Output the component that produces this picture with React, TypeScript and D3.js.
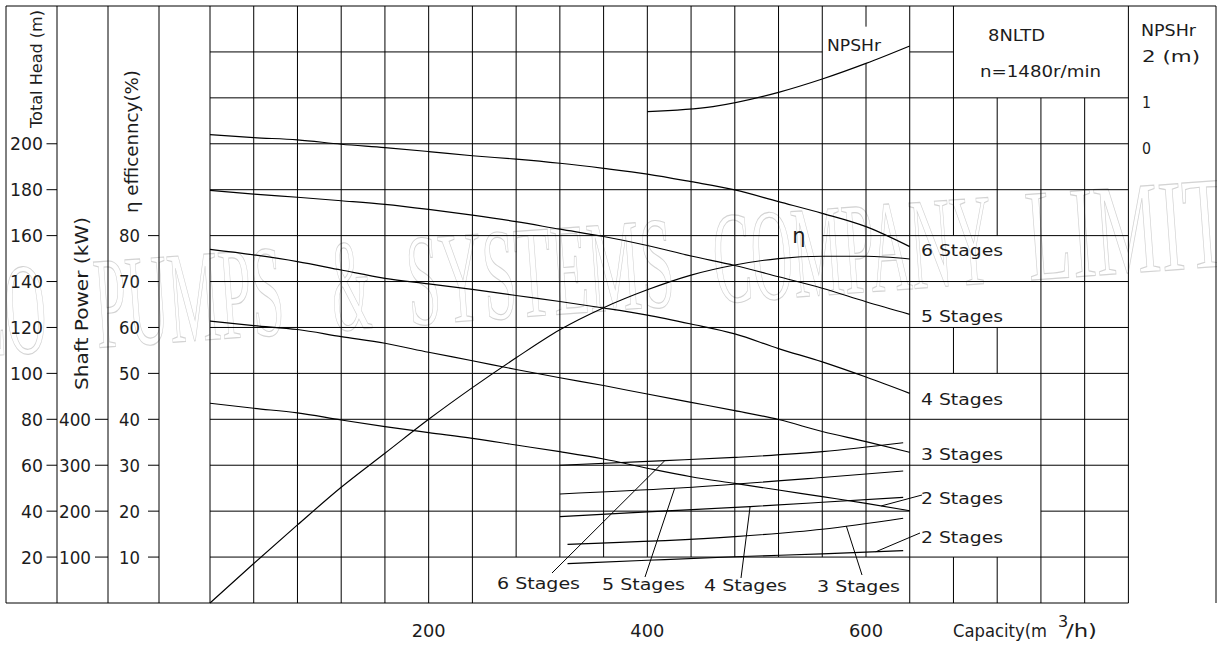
import React from 'react';
import * as d3 from 'd3';

// ---------------- data ----------------
const capacity = [0, 40, 80, 120, 160, 200, 240, 280, 320, 360, 400, 440, 480, 520, 560, 600, 640];
const head6 = [204.0, 202.7, 201.7, 199.8, 198.3, 196.6, 194.8, 193.3, 191.5, 189.3, 186.8, 183.5, 179.9, 174.8, 169.7, 163.9, 155.2];
const head5 = [179.7, 178.1, 176.7, 175.2, 173.6, 171.4, 168.9, 166.1, 162.8, 159.6, 155.7, 151.1, 147.0, 142.1, 137.1, 131.2, 125.7];
const head4 = [154.0, 151.6, 148.7, 145.0, 141.4, 139.0, 136.6, 133.9, 131.3, 128.5, 125.4, 121.5, 117.2, 110.8, 105.0, 98.4, 91.3];
const head3 = [122.8, 120.8, 119.1, 116.0, 113.1, 109.2, 105.5, 101.7, 98.1, 94.7, 91.0, 87.4, 83.8, 79.9, 74.7, 70.3, 65.6];
const head2 = [87.0, 84.8, 82.8, 79.7, 76.8, 74.2, 71.7, 68.8, 65.9, 62.7, 58.7, 55.0, 52.1, 49.2, 46.3, 43.4, 40.2];
const efficiency = [0, 8.6, 17.0, 25.2, 32.6, 40.0, 46.9, 53.4, 59.5, 64.3, 68.2, 71.4, 73.6, 75.0, 75.5, 75.5, 74.9];

const npshQ = [400, 460, 520, 560, 600, 640];
const npshr = [0.70, 0.81, 1.12, 1.41, 1.75, 2.13];

const power6Q = [320, 416, 480, 560, 634];
const power6 = [300, 310, 317, 329.5, 349];
const power5Q = [320, 425, 560, 634];
const power5 = [237.4, 249.8, 273.3, 287.5];
const power4Q = [320, 400, 494, 560, 634];
const power4 = [188, 198.5, 210, 219.3, 230];
const power3Q = [327, 480, 560, 634];
const power3 = [127.8, 144.4, 160.5, 184.5];
const power2Q = [327, 400, 480, 560, 634];
const power2 = [85.6, 93, 100.8, 107, 113.9];

const headTicks = [20, 40, 60, 80, 100, 120, 140, 160, 180, 200];
const powerTicks = [100, 200, 300, 400];
const effTicks = [10, 20, 30, 40, 50, 60, 70, 80];
const npshTicks = ['0', '1', '2  (m)'];
const npshTickValues = [0, 1, 2];
const capacityTicks = [200, 400, 600];

const rightStageLabels = ['6  Stages', '5  Stages', '4  Stages', '3  Stages', '2  Stages', '2  Stages'];
const bottomStageLabels = ['6  Stages', '5  Stages', '4  Stages', '3  Stages'];

const watermarkWords = ['LO', 'PUMPS', '&', 'SYSTEMS', 'COMPANY', 'LIMITED'];

// ---------------- layout ----------------
const W = 1217;
const H = 648;
const x = d3.scaleLinear().domain([0, 840]).range([210, 1128.4]);
const yH = d3.scaleLinear().domain([0, 260]).range([603, 6]);
const yE = d3.scaleLinear().domain([0, 130]).range([603, 6]);
const yP = d3.scaleLinear().domain([0, 1300]).range([603, 6]);
const yN = d3.scaleLinear().domain([-10, 3]).range([603, 6]);

const FONT = "'DejaVu Sans', 'Noto Sans', sans-serif";
const INK = '#1c1c1c';

// gaps in vertical grid lines (in head units), keyed by capacity
const vGaps: Record<number, [number, number][]> = {
  280: [[0, 20]], 320: [[0, 20]], 360: [[0, 20]], 400: [[0, 20]], 440: [[0, 20]],
  480: [[0, 20]], 520: [[0, 20]], 560: [[0, 20]],
  600: [[0, 20], [235, 251]],
  680: [[120, 160], [20, 100]],
  720: [[220, 260], [120, 160], [20, 100]],
  760: [[220, 260]],
  800: [[220, 260]],
};
// gaps in horizontal grid lines (in capacity units), keyed by head
const hGaps: Record<number, [number, number][]> = {
  240: [[560, 640], [680, 840]],
  160: [[520, 560]],
  40: [[640, 760]],
};

function segments(a: number, b: number, gaps: [number, number][] = []) {
  const gs = [...gaps].sort((p, q) => p[0] - q[0]);
  const out: [number, number][] = [];
  let cur = a;
  for (const [g0, g1] of gs) {
    if (g0 > cur) out.push([cur, Math.min(g0, b)]);
    cur = Math.max(cur, g1);
  }
  if (cur < b) out.push([cur, b]);
  return out;
}

const curve = (qs: number[], vs: number[], ys: d3.ScaleLinear<number, number>) =>
  d3.line<number>().x((_, i) => x(qs[i])).y((v) => ys(v)).curve(d3.curveMonotoneX)(vs) || '';

const at = (qs: number[], vs: number[], q: number) => d3.scaleLinear().domain(qs).range(vs)(q);

export default function App() {
  const gridLines: JSX.Element[] = [];
  d3.range(0, 841, 40).forEach((q) => {
    segments(0, 260, vGaps[q]).forEach(([h0, h1], k) => {
      gridLines.push(<line key={`v${q}-${k}`} x1={x(q)} x2={x(q)} y1={yH(h0)} y2={yH(h1)} />);
    });
  });
  d3.range(20, 241, 20).forEach((h) => {
    segments(0, 840, hGaps[h]).forEach(([q0, q1], k) => {
      gridLines.push(<line key={`h${h}-${k}`} x1={x(q0)} x2={x(q1)} y1={yH(h)} y2={yH(h)} />);
    });
  });

  const heads = [head6, head5, head4, head3, head2];
  const powers: [number[], number[]][] = [
    [power6Q, power6], [power5Q, power5], [power4Q, power4], [power3Q, power3], [power2Q, power2],
  ];

  const rightY = [250, 316, 399, 454, 498, 537];
  const bottomX = [497, 602, 704, 817];
  const bottomY = [589, 590, 590.5, 592];

  const leaders = [
    { sx: 552, sy: 573, q: 416, y: yP(at(power6Q, power6, 416)) },
    { sx: 645, sy: 577, q: 425, y: yP(at(power5Q, power5, 425)) },
    { sx: 741, sy: 578, q: 494, y: yP(at(power4Q, power4, 494)) },
    { sx: 862, sy: 575, q: 582, y: yP(at(power3Q, power3, 582)) },
    { sx: 922, sy: 495, q: 614, y: yH(at(capacity, head2, 614)) },
    { sx: 920, sy: 533, q: 609, y: yP(at(power2Q, power2, 609)) },
  ];

  const wmSpans: [number, number][] = [[-28, 48], [97, 286], [334, 373], [410, 677], [717, 997], [1031, 1330]];

  return (
    <svg width={W} height={H} viewBox={`0 0 ${W} ${H}`}
      style={{ position: 'absolute', left: 0, top: 0, background: '#fff', display: 'block' }}>
      <rect x={0} y={0} width={W} height={H} fill="#fff" />

      {/* watermark */}
      <g transform="rotate(-4.15 413 325)" fill="none" stroke="#d3d3d3" strokeWidth={1.2}
        fontFamily="'Liberation Serif', 'DejaVu Serif', serif" fontSize={131}>
        {watermarkWords.map((w, i) => (
          <text key={w + i} x={wmSpans[i][0]} y={325} textLength={wmSpans[i][1] - wmSpans[i][0]}
            lengthAdjust="spacingAndGlyphs">{w}</text>
        ))}
      </g>

      {/* frame and grid */}
      <g stroke="#000" strokeWidth={1} fill="none">
        {gridLines}
        <line x1={6} x2={1216} y1={6} y2={6} />
        <line x1={6} x2={x(840)} y1={603} y2={603} />
        {[6, 57, 108, 159, 1216].map((xx) => (
          <line key={xx} x1={xx} x2={xx} y1={6} y2={603} />
        ))}
      </g>

      {/* left axes */}
      <g fontFamily={FONT} fontSize={18} fill={INK}>
        {headTicks.map((t) => (
          <g key={`h${t}`}>
            <line x1={46.5} x2={57} y1={yH(t)} y2={yH(t)} stroke="#000" />
            <text x={43} y={yH(t) + 6.5} textAnchor="end" textLength={String(t).length * 11}
              lengthAdjust="spacingAndGlyphs">{t}</text>
          </g>
        ))}
        {powerTicks.map((t) => (
          <g key={`p${t}`}>
            <line x1={95} x2={108} y1={yP(t)} y2={yP(t)} stroke="#000" />
            <text x={59} y={yP(t) + 6.5} textLength={32} lengthAdjust="spacingAndGlyphs">{t}</text>
          </g>
        ))}
        {effTicks.map((t) => (
          <g key={`e${t}`}>
            <line x1={148} x2={159} y1={yE(t)} y2={yE(t)} stroke="#000" />
            <text x={140} y={yE(t) + 6.5} textAnchor="end" textLength={21}
              lengthAdjust="spacingAndGlyphs">{t}</text>
          </g>
        ))}
        <text transform="translate(41.5,69) rotate(-90)" textAnchor="middle" fontSize={16}
          textLength={118} lengthAdjust="spacingAndGlyphs">Total Head (m)</text>
        <text transform="translate(88,303.5) rotate(-90)" textAnchor="middle" fontSize={17}
          textLength={173} lengthAdjust="spacingAndGlyphs">Shaft  Power  (kW)</text>
        <text transform="translate(137.5,141.5) rotate(-90)" textAnchor="middle" fontSize={17}
          textLength={143} lengthAdjust="spacingAndGlyphs">η efficenncy(%)</text>
      </g>

      {/* right NPSHr axis */}
      <g fontFamily={FONT} fontSize={16} fill={INK}>
        <text x={1141} y={36} textLength={55} lengthAdjust="spacingAndGlyphs">NPSHr</text>
        {npshTickValues.map((v, i) => (
          <text key={v} x={1142} y={yN(v) + 10} textLength={npshTicks[i].length > 1 ? 58 : 9}
            lengthAdjust="spacingAndGlyphs">{npshTicks[i]}</text>
        ))}
      </g>

      {/* bottom axis */}
      <g fontFamily={FONT} fontSize={18} fill={INK}>
        {capacityTicks.map((t) => (
          <text key={t} x={x(t)} y={637} textAnchor="middle" textLength={34}
            lengthAdjust="spacingAndGlyphs">{t}</text>
        ))}
        <text x={953} y={637} fontSize={17} textLength={94} lengthAdjust="spacingAndGlyphs">Capacity(m</text>
        <text x={1058} y={627} fontSize={16}>3</text>
        <text x={1066} y={637} fontSize={17} textLength={31} lengthAdjust="spacingAndGlyphs">/h)</text>
      </g>

      {/* curves */}
      <g fill="none" stroke="#000" strokeWidth={1.15}>
        {heads.map((h, i) => (
          <path key={`hd${i}`} d={curve(capacity, h, yH)} />
        ))}
        <path d={curve(capacity, efficiency, yE)} />
        <path d={curve(npshQ, npshr, yN)} />
        {powers.map(([qs, vs], i) => (
          <path key={`pw${i}`} d={curve(qs, vs, yP)} />
        ))}
        {leaders.map((l, i) => (
          <line key={`ld${i}`} x1={l.sx} y1={l.sy} x2={x(l.q)} y2={l.y} strokeWidth={1} />
        ))}
      </g>

      {/* labels */}
      <g fontFamily={FONT} fontSize={16} fill={INK}>
        {rightStageLabels.map((s, i) => (
          <text key={`rs${i}`} x={921} y={rightY[i] + 6} textLength={82} lengthAdjust="spacingAndGlyphs">{s}</text>
        ))}
        {bottomStageLabels.map((s, i) => (
          <text key={`bs${i}`} x={bottomX[i]} y={bottomY[i]} textLength={83} lengthAdjust="spacingAndGlyphs">{s}</text>
        ))}
        <text x={827} y={51} textLength={54} lengthAdjust="spacingAndGlyphs">NPSHr</text>
        <text x={988} y={41} textLength={57} lengthAdjust="spacingAndGlyphs">8NLTD</text>
        <text x={980} y={77} textLength={121} lengthAdjust="spacingAndGlyphs">n=1480r/min</text>
        <text x={799} y={243} textAnchor="middle" fontSize={21}>η</text>
      </g>
    </svg>
  );
}
